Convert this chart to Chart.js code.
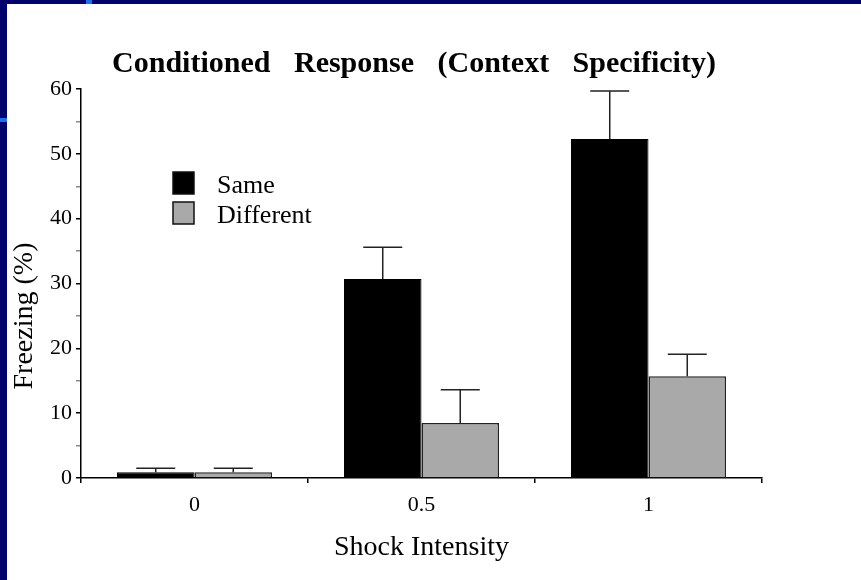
<!DOCTYPE html>
<html><head><meta charset="utf-8">
<script src="https://cdn.jsdelivr.net/npm/chart.js@4.4.1/dist/chart.umd.min.js"></script>
<style>html,body{margin:0;padding:0;background:#fff;overflow:hidden}canvas{display:block}</style>
</head><body><canvas id="c" width="861" height="580"></canvas>
<script>
const chartTitle = 'Conditioned Response (Context Specificity)';
const xAxisTitle = 'Shock Intensity';
const yAxisTitle = 'Freezing (%)';
const categories = ['0', '0.5', '1'];
const seriesNames = ['Same', 'Different'];
const sameValues = [0.9, 30.7, 52.3];
const sameErrors = [0.6, 4.9, 7.4];
const differentValues = [0.9, 8.5, 15.7];
const differentErrors = [0.6, 5.1, 3.4];
const yMin = 0, yMax = 60, yMajorStep = 10, yMinorStep = 5;

const SERIF = "'Liberation Serif', 'Times New Roman', serif";
const NAVY = '#02026c';

const decor = {
  id: 'decor',
  beforeDraw(chart) {
    const c = chart.ctx;
    c.save();
    c.fillStyle = NAVY;
    c.fillRect(0, 0, chart.width, chart.height);
    c.fillStyle = '#ffffff';
    c.fillRect(7, 4, chart.width - 7, chart.height - 4);
    c.fillStyle = '#1e6cf0';
    c.fillRect(86, 0, 6, 4);
    c.fillRect(0, 118, 7, 4);
    c.restore();
  },
  afterDatasetsDraw(chart) {
    const c = chart.ctx;
    const ys = chart.scales.y;
    c.save();
    c.strokeStyle = '#222';
    c.lineWidth = 1.5;
    chart.data.datasets.forEach((ds, i) => {
      const meta = chart.getDatasetMeta(i);
      meta.data.forEach((bar, j) => {
        const v = ds.data[j], e = ds.errors[j];
        const yTop = ys.getPixelForValue(v + e);
        const yVal = ys.getPixelForValue(v);
        c.beginPath();
        c.moveTo(bar.x, yVal);
        c.lineTo(bar.x, yTop);
        c.moveTo(bar.x - 19.5, yTop);
        c.lineTo(bar.x + 19.5, yTop);
        c.stroke();
      });
    });
    c.restore();
  },
  afterDraw(chart) {
    const c = chart.ctx;
    c.save();
    // title
    c.fillStyle = '#000';
    c.font = 'bold 30px ' + SERIF;
    c.textAlign = 'center';
    c.textBaseline = 'alphabetic';
    try { c.wordSpacing = '16px'; } catch (e) {}
    c.fillText(chartTitle, 414, 72);
    try { c.wordSpacing = '0px'; } catch (e) {}
    // y axis title
    c.save();
    c.translate(25, 316);
    c.rotate(-Math.PI / 2);
    c.font = '28px ' + SERIF;
    c.textAlign = 'center';
    c.textBaseline = 'middle';
    c.fillText(yAxisTitle, 0, 0);
    c.restore();
    // legend
    c.font = '26px ' + SERIF;
    c.textAlign = 'left';
    c.textBaseline = 'alphabetic';
    chart.data.datasets.forEach((ds, i) => {
      const top = 172 + i * 30;
      c.fillStyle = ds.backgroundColor;
      c.fillRect(173, top, 21, 22);
      c.strokeStyle = '#111';
      c.lineWidth = 1.5;
      c.strokeRect(173, top, 21, 22);
      c.fillStyle = '#000';
      c.fillText(ds.label, 217, top + 21);
    });
    c.restore();
  }
};

Chart.defaults.font.family = SERIF;
Chart.defaults.color = '#000';

new Chart(document.getElementById('c'), {
  type: 'bar',
  data: {
    labels: categories,
    datasets: [
      { label: seriesNames[0], data: sameValues, errors: sameErrors,
        backgroundColor: '#000000', borderColor: '#000000', borderWidth: 1 },
      { label: seriesNames[1], data: differentValues, errors: differentErrors,
        backgroundColor: '#a9a9a9', borderColor: '#222222', borderWidth: 1.5 }
    ]
  },
  options: {
    responsive: false,
    animation: false,
    devicePixelRatio: 1,
    categoryPercentage: 0.683,
    barPercentage: 1,
    layout: { padding: { top: 89, right: 99, bottom: 0, left: 0 } },
    plugins: { legend: { display: false }, title: { display: false }, tooltip: { enabled: false } },
    scales: {
      x: {
        grid: { display: true, drawOnChartArea: false, offset: true, tickLength: 5, color: '#000', lineWidth: 1.5 },
        border: { color: '#000', width: 1.5 },
        ticks: { font: { size: 22 }, padding: 9, color: '#000' },
        title: { display: true, text: xAxisTitle, font: { size: 28 }, padding: { top: 0, bottom: 16 }, color: '#000' },
        afterFit(s) { s.height = 102; }
      },
      y: {
        min: yMin, max: yMax,
        ticks: {
          stepSize: yMinorStep, autoSkip: false,
          callback: (v) => (v % yMajorStep === 0 ? String(v) : ''),
          font: { size: 22 }, padding: 4, color: '#000'
        },
        grid: { display: true, drawOnChartArea: false, tickLength: 5, lineWidth: 1.5,
          color: (ctx) => (ctx.tick && ctx.tick.value % yMajorStep === 0 ? '#000' : '#888') },
        border: { color: '#000', width: 1.5 },
        afterFit(s) { s.width = 81; }
      }
    }
  },
  plugins: [decor]
});
</script>
</body></html>
